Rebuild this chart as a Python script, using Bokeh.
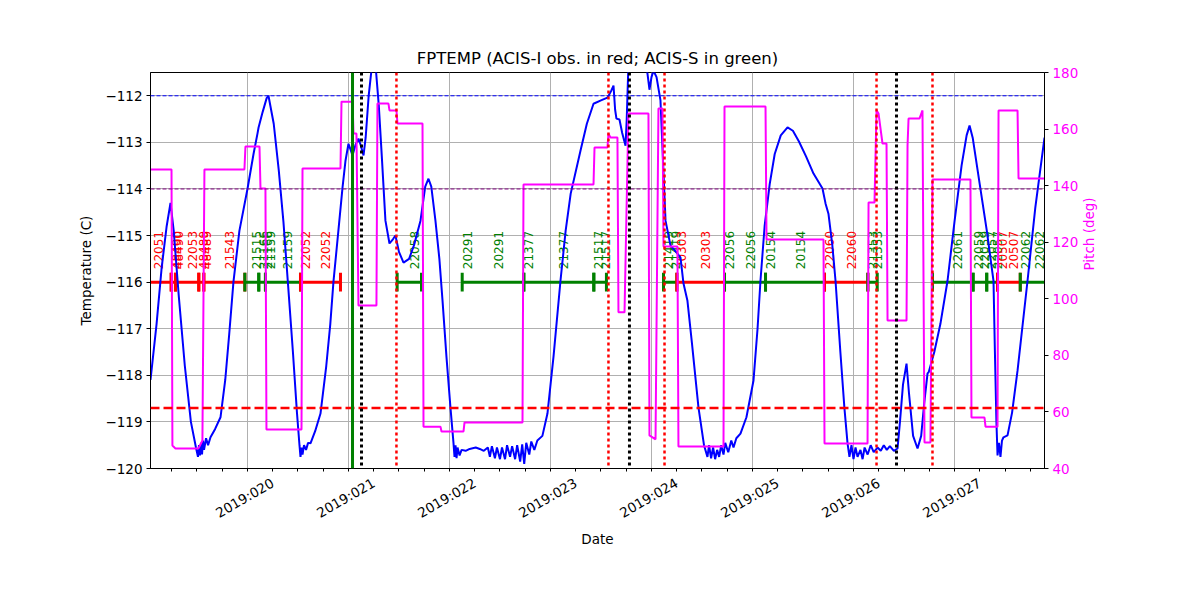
import math
from bokeh.plotting import figure
from bokeh.models import Range1d, LinearAxis, FixedTicker, Span, ColumnDataSource
from bokeh.core.properties import value
from bokeh.embed import file_html
from bokeh.resources import INLINE

# ---------------- data ----------------
# FPTEMP (day of year 2019, deg C)
temp_day = [19.04, 19.10, 19.15, 19.20, 19.238, 19.27, 19.32, 19.38, 19.44, 19.49,
            19.51, 19.52, 19.53, 19.54, 19.55, 19.56, 19.57, 19.59, 19.61, 19.634,
            19.68, 19.733, 19.78, 19.82, 19.861, 19.92, 20.0, 20.06, 20.10, 20.11,
            20.15, 20.19, 20.208, 20.26, 20.31, 20.356, 20.40, 20.45, 20.49, 20.515,
            20.525, 20.535, 20.545, 20.56, 20.58, 20.60, 20.624, 20.67, 20.723, 20.78,
            20.82, 20.851, 20.90, 20.941, 20.97, 21.0, 21.02, 21.04, 21.07, 21.099,
            21.12, 21.149, 21.17, 21.20, 21.23, 21.248, 21.27, 21.30, 21.33, 21.366,
            21.406, 21.44, 21.465, 21.50, 21.545, 21.60, 21.65, 21.713, 21.76, 21.792,
            21.82, 21.861, 21.90, 21.931, 21.97, 22.01, 22.04, 22.05, 22.06, 22.07,
            22.08, 22.10, 22.12, 22.16, 22.20, 22.26, 22.30, 22.34, 22.38, 22.40,
            22.42, 22.45, 22.47, 22.50, 22.52, 22.55, 22.57, 22.60, 22.62, 22.65,
            22.67, 22.70, 22.72, 22.74, 22.76, 22.79, 22.81, 22.84, 22.87, 22.92,
            22.97, 23.03, 23.099, 23.15, 23.20, 23.297, 23.36, 23.426, 23.50, 23.564,
            23.60, 23.624, 23.64, 23.653, 23.683, 23.71, 23.743, 23.755, 23.772, 23.80,
            23.88, 23.93, 23.960, 23.980, 24.0, 24.020, 24.05, 24.089, 24.139, 24.188,
            24.257, 24.287, 24.317, 24.356, 24.40, 24.465, 24.52, 24.554, 24.57, 24.59,
            24.61, 24.63, 24.65, 24.67, 24.69, 24.713, 24.73, 24.76, 24.79, 24.812,
            24.84, 24.881, 24.94, 25.010, 25.05, 25.079, 25.12, 25.17, 25.22, 25.28,
            25.347, 25.40, 25.46, 25.53, 25.604, 25.693, 25.723, 25.752, 25.79, 25.822,
            25.87, 25.91, 25.941, 25.96, 25.98, 26.0, 26.02, 26.04, 26.069, 26.09,
            26.11, 26.14, 26.17, 26.20, 26.238, 26.27, 26.30, 26.33, 26.36, 26.40,
            26.436, 26.46, 26.49, 26.525, 26.55, 26.59, 26.634, 26.67, 26.70, 26.733,
            26.745, 26.80, 26.86, 26.931, 27.0, 27.07, 27.12, 27.149, 27.18, 27.25,
            27.32, 27.386, 27.40, 27.415, 27.426, 27.44, 27.455, 27.47, 27.485, 27.525,
            27.57, 27.624, 27.723, 27.80, 27.891]
temp_val = [-118.1, -116.9, -115.7, -114.8, -114.3, -114.9, -116.3, -117.8, -119.0, -119.55,
            -119.75, -119.5, -119.72, -119.45, -119.7, -119.4, -119.6, -119.35, -119.5, -119.33,
            -119.15, -118.9, -118.1, -117.1, -116.0, -114.9, -114.0, -113.25, -112.8, -112.68,
            -112.35, -112.05, -112.0, -112.6, -113.6, -114.7, -116.0, -117.5, -118.8, -119.5,
            -119.75, -119.55, -119.7, -119.5, -119.6, -119.45, -119.46, -119.2, -118.82, -117.8,
            -116.9, -116.0, -114.9, -113.97, -113.4, -113.03, -113.15, -113.28, -113.05, -112.92,
            -113.05, -113.28, -112.9, -112.0, -111.4, -111.25, -111.4, -112.2, -113.3, -114.68,
            -115.17, -115.08, -115.0, -115.35, -115.58, -115.5, -115.2, -114.68, -113.95, -113.78,
            -113.95, -114.68, -115.5, -116.39, -117.6, -118.7, -119.46, -119.75, -119.5, -119.78,
            -119.55, -119.72, -119.6, -119.62, -119.58, -119.55, -119.58, -119.62, -119.55, -119.75,
            -119.52, -119.78, -119.55, -119.8, -119.55, -119.8, -119.5, -119.75, -119.52, -119.8,
            -119.5, -119.85, -119.48, -119.9, -119.45, -119.7, -119.42, -119.6, -119.4, -119.3,
            -118.82, -117.6, -115.97, -114.9, -114.1, -113.18, -112.6, -112.17, -112.1, -112.04,
            -111.9, -111.78, -112.3, -112.49, -112.51, -112.8, -113.07, -112.5, -111.3, -110.8,
            -110.9, -111.2, -111.52, -111.87, -111.6, -111.46, -111.6, -112.1, -114.68, -115.21,
            -115.39, -115.47, -116.03, -116.4, -117.3, -118.69, -119.5, -119.75, -119.5, -119.78,
            -119.55, -119.8, -119.6, -119.75, -119.5, -119.7, -119.45, -119.65, -119.4, -119.55,
            -119.35, -119.25, -118.9, -118.11, -117.0, -115.97, -114.8, -113.9, -113.25, -112.85,
            -112.68, -112.75, -112.98, -113.3, -113.67, -113.99, -114.31, -114.53, -115.2, -115.97,
            -117.5, -118.7, -119.46, -119.75, -119.5, -119.8, -119.55, -119.75, -119.6, -119.8,
            -119.55, -119.7, -119.5, -119.65, -119.55, -119.62, -119.5, -119.6, -119.52, -119.62,
            -119.57, -119.0, -118.2, -117.75, -118.4, -119.3, -119.57, -119.3, -118.6, -117.96,
            -117.93, -117.5, -116.9, -115.97, -114.7, -113.5, -112.85, -112.64, -112.9, -113.9,
            -114.9, -115.97, -117.5, -119.0, -119.72, -119.45, -119.75, -119.4, -119.33, -119.29,
            -118.8, -117.9, -115.97, -114.4, -112.9]

# Pitch (deg)
pitch_day = [19.040, 19.248, 19.257, 19.287, 19.515, 19.554, 19.574, 19.970, 19.980, 20.119,
             20.129, 20.178, 20.188, 20.535, 20.545, 20.921, 20.931, 21.040, 21.050, 21.079,
             21.099, 21.277, 21.287, 21.396, 21.406, 21.475, 21.485, 21.733, 21.743, 21.911,
             21.921, 22.139, 22.149, 22.723, 22.733, 23.426, 23.436, 23.564, 23.574, 23.594,
             23.663, 23.673, 23.733, 23.772, 23.970, 23.980, 24.040, 24.069, 24.109, 24.119,
             24.257, 24.267, 24.713, 24.723, 25.129, 25.139, 25.703, 25.713, 26.139, 26.149,
             26.208, 26.228, 26.248, 26.287, 26.327, 26.337, 26.525, 26.535, 26.545, 26.653,
             26.683, 26.703, 26.762, 26.782, 27.158, 27.168, 27.297, 27.307, 27.426, 27.436,
             27.624, 27.634, 27.891]
pitch_val = [145.7, 145.7, 48.1, 47.1, 47.1, 49.9, 145.7, 145.7, 153.8, 153.8,
             139.0, 139.0, 53.8, 53.8, 146.1, 146.1, 169.7, 169.7, 158.4, 158.4,
             97.6, 97.6, 169.0, 169.0, 166.6, 166.6, 162.0, 162.0, 54.8, 54.8,
             53.1, 53.1, 56.3, 56.3, 140.4, 140.4, 153.5, 153.5, 158.4, 157.0,
             157.0, 95.2, 95.2, 165.5, 165.5, 51.7, 50.3, 167.3, 167.3, 118.5,
             118.5, 47.8, 47.8, 168.0, 168.0, 121.0, 121.0, 48.8, 48.8, 134.0,
             134.0, 166.6, 165.5, 154.9, 154.9, 92.3, 92.3, 154.2, 163.7, 163.7,
             166.6, 49.2, 49.2, 142.2, 142.2, 58.0, 58.0, 54.8, 54.8, 166.6,
             166.6, 142.5, 142.5]

# Observations
obs_id = ["22051", "48490", "22053", "48489", "21543", "21515", "21166", "21159", "22052",
          "22058", "20291", "21377", "21517", "21419", "20303", "22056", "20154", "22060",
          "21353", "22061", "22059", "22057", "20507", "22062"]
obs_instr = ["I", "I", "I", "I", "I", "S", "S", "S", "I",
             "S", "S", "S", "S", "S", "I", "S", "S", "I",
             "S", "S", "S", "S", "I", "S"]
obs_start = [18.90, 19.245, 19.287, 19.518, 19.568, 19.974, 20.112, 20.178, 20.525,
             21.482, 22.126, 22.736, 23.429, 24.119, 24.251, 24.723, 25.129, 25.713,
             26.142, 26.782, 27.184, 27.319, 27.426, 27.651]
obs_stop = [19.245, 19.287, 19.518, 19.568, 19.974, 20.112, 20.178, 20.525, 20.921,
            21.723, 22.736, 23.429, 23.554, 24.251, 24.723, 25.129, 25.713, 26.142,
            26.235, 27.184, 27.319, 27.426, 27.651, 27.93]
obs_start_label = [True, True, False, True, False, False, True, True, True,
                   False, True, True, True, True, True, True, True, True,
                   True, False, True, True, True, True]
obs_level = -116.0

# event markers (day of year)
red_events = [21.475, 23.574, 24.129, 26.228, 26.782]
black_events = [21.129, 23.782, 26.426]
green_events = [21.040]

# limits (deg C)
limit_high = -112.0
limit_mid = -114.0
limit_low = -118.7

x_ticks = [20, 21, 22, 23, 24, 25, 26, 27]
x_tick_labels = ["2019:020", "2019:021", "2019:022", "2019:023", "2019:024", "2019:025", "2019:026", "2019:027"]
y_ticks = [-120, -119, -118, -117, -116, -115, -114, -113, -112]
y_tick_labels = ["\u2212120", "\u2212119", "\u2212118", "\u2212117", "\u2212116", "\u2212115", "\u2212114", "\u2212113", "\u2212112"]
pitch_ticks = [40, 60, 80, 100, 120, 140, 160, 180]

# ---------------- figure ----------------
FONT = "DejaVu Sans"
TICK_FS = "13.5px"
# Bokeh right-aligns rotated tick labels; anchor them a bit to the right of each
# tick so that the rotated text is centred under it (as in the reference).
LABEL_SHIFT = 0.25

p = figure(width=1200, height=600, output_backend="svg", toolbar_location=None,
           x_range=Range1d(19.04, 27.891), y_range=Range1d(-120, -111.5),
           min_border_left=150, min_border_right=156, min_border_top=72, min_border_bottom=132,
           title="FPTEMP (ACIS-I obs. in red; ACIS-S in green)")
p.title.align = "center"
p.title.text_font = FONT
p.title.text_font_size = "16.5px"
p.title.text_font_style = "normal"
p.title.text_color = "black"
p.outline_line_color = "black"
p.outline_line_alpha = 1.0
p.outline_line_width = 1
p.background_fill_color = "white"
p.border_fill_color = "white"

p.extra_y_ranges = {"pitch": Range1d(40, 180)}

# axes
xa = p.xaxis[0]
shifted = [t + LABEL_SHIFT for t in x_ticks]
xa.ticker = FixedTicker(ticks=shifted,
                        minor_ticks=[d + q for d in range(19, 28) for q in (0.0, 0.25, 0.5, 0.75)])
xa.major_label_overrides = {t: s for t, s in zip(shifted, x_tick_labels)}
xa.major_label_orientation = math.pi / 6
xa.major_tick_line_color = None
xa.axis_label = "Date"

ya = p.yaxis[0]
ya.ticker = FixedTicker(ticks=y_ticks, minor_ticks=[])
ya.major_label_overrides = {t: s for t, s in zip(y_ticks, y_tick_labels)}
ya.axis_label = "Temperature (C)"

ra = LinearAxis(y_range_name="pitch", axis_label="Pitch (deg)",
                ticker=FixedTicker(ticks=pitch_ticks, minor_ticks=[]))
p.add_layout(ra, "right")

for ax in (xa, ya, ra):
    ax.major_label_text_font = FONT
    ax.major_label_text_font_size = TICK_FS
    ax.axis_label_text_font = FONT
    ax.axis_label_text_font_size = TICK_FS
    ax.axis_label_text_font_style = "normal"
    ax.major_tick_out = 4
    ax.major_tick_in = 0
    ax.minor_tick_out = 3
    ax.minor_tick_in = 0
    ax.axis_line_color = "black"
    ax.minor_tick_line_color = "black"
    ax.major_label_text_color = "black"
    ax.axis_label_text_color = "black"
ya.major_tick_line_color = "black"
ra.major_tick_line_color = "black"
ra.major_label_text_color = "#ff00ff"
ra.axis_label_text_color = "#ff00ff"
ya.major_label_standoff = 4
ra.major_label_standoff = 4
xa.major_label_standoff = 9
xa.axis_label_standoff = 0
ya.axis_label_standoff = 8
ra.axis_label_standoff = 8
try:
    ra.axis_label_orientation = math.pi / 2
except Exception:
    pass

p.xgrid[0].ticker = FixedTicker(ticks=x_ticks)
for g in (p.xgrid[0], p.ygrid[0]):
    g.grid_line_color = "#b0b0b0"
    g.grid_line_width = 1

# limit lines
p.add_layout(Span(location=limit_high, dimension="width", line_color="blue", line_width=1, line_dash="4 2"))
p.add_layout(Span(location=limit_mid, dimension="width", line_color="purple", line_width=1, line_dash="4 2"))
p.add_layout(Span(location=limit_low, dimension="width", line_color="red", line_width=2.5, line_dash="9 4"))

# observation bars (line + end caps, drawn in order)
seg_x0, seg_x1, seg_y0, seg_y1, seg_c = [], [], [], [], []
lab_x, lab_t, lab_c = [], [], []
for oid, ins, s, e, sl in zip(obs_id, obs_instr, obs_start, obs_stop, obs_start_label):
    col = "red" if ins == "I" else "green"
    seg_x0 += [s, s, e]
    seg_x1 += [e, s, e]
    seg_y0 += [obs_level, obs_level - 0.2, obs_level - 0.2]
    seg_y1 += [obs_level, obs_level + 0.2, obs_level + 0.2]
    seg_c += [col, col, col]
    if sl:
        lab_x.append(s)
        lab_t.append(oid)
        lab_c.append(col)
    lab_x.append((s + e) / 2)
    lab_t.append(oid)
    lab_c.append(col)

seg_src = ColumnDataSource(dict(x0=seg_x0, x1=seg_x1, y0=seg_y0, y1=seg_y1, c=seg_c))
p.segment(x0="x0", y0="y0", x1="x1", y1="y1", color="c", line_width=3, source=seg_src)

lab_src = ColumnDataSource(dict(x=lab_x, y=[obs_level] * len(lab_x), t=lab_t, c=lab_c))
p.text(x="x", y="y", text="t", text_color="c", source=lab_src, angle=math.pi / 2,
       text_align="left", text_baseline="middle", x_offset=5, y_offset=-13,
       text_font=value(FONT), text_font_size="12px")

# temperature
p.line(temp_day, temp_val, line_color="blue", line_width=2)

# event lines
for d in green_events:
    p.add_layout(Span(location=d, dimension="height", line_color="green", line_width=3))
for d in black_events:
    p.add_layout(Span(location=d, dimension="height", line_color="black", line_width=3, line_dash="3 3"))
for d in red_events:
    p.add_layout(Span(location=d, dimension="height", line_color="red", line_width=2.5, line_dash="3 3"))

# pitch
p.line(pitch_day, pitch_val, line_color="#ff00ff", line_width=2, y_range_name="pitch")

open("out.html", "w").write(file_html(p, INLINE))
